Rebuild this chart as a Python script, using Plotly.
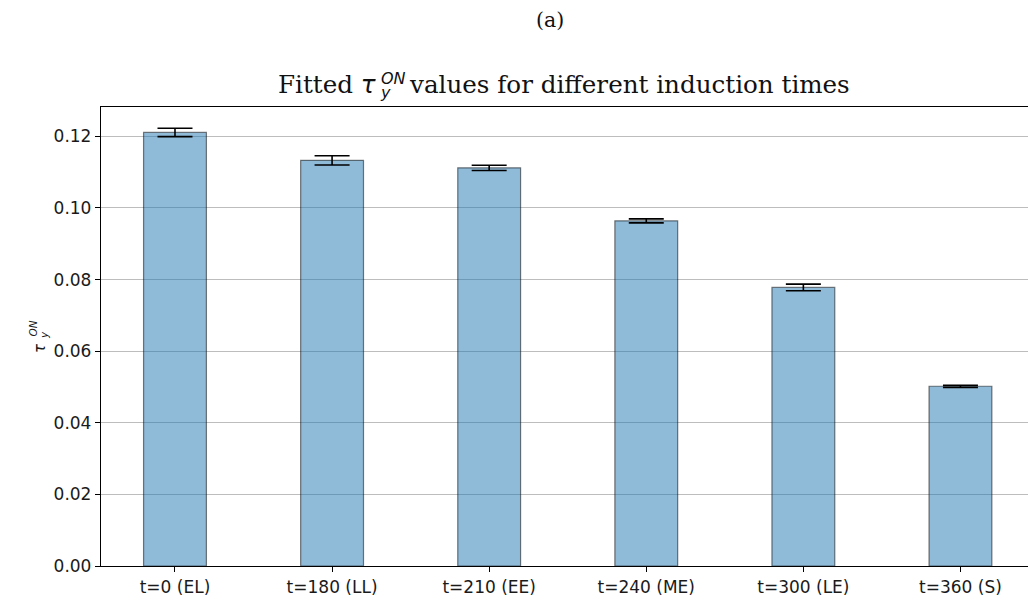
import plotly.graph_objects as go

# Induction-time groups and fitted tau_y^ON values with their uncertainties
categories = ["t=0 (EL)", "t=180 (LL)", "t=210 (EE)", "t=240 (ME)", "t=300 (LE)", "t=360 (S)"]
tau_on = [0.1211, 0.1133, 0.1112, 0.0964, 0.0778, 0.0502]
tau_err = [0.00117, 0.00128, 0.00075, 0.00056, 0.00093, 0.00030]
y_ticks = [0.00, 0.02, 0.04, 0.06, 0.08, 0.10, 0.12]

x_pos = list(range(len(categories)))

W, H = 1028, 601
L, R, T, B = 101, 0, 107, 35

fig = go.Figure()
fig.add_trace(go.Bar(
    x=x_pos,
    y=tau_on,
    width=0.4,
    marker=dict(color="rgba(31,119,180,0.5)",
                line=dict(color="rgba(0,0,0,0.5)", width=1.2)),
    error_y=dict(type="data", array=tau_err, visible=True,
                 color="black", thickness=1.6, width=17.5),
    showlegend=False,
))

tick_font = dict(family="DejaVu Sans", size=17, color="#1a1a1a")

fig.update_layout(
    width=W, height=H,
    margin=dict(l=L, r=R, t=T, b=B),
    paper_bgcolor="white", plot_bgcolor="white",
    xaxis=dict(
        range=[-0.471, 5.43],
        tickmode="array", tickvals=x_pos, ticktext=categories,
        showgrid=False, zeroline=False,
        showline=True, linecolor="black", linewidth=1.3, mirror=True,
        ticks="outside", ticklen=5, tickwidth=1.2, tickcolor="black",
        tickfont=tick_font,
    ),
    yaxis=dict(
        range=[0, 0.1282],
        tickmode="array", tickvals=y_ticks,
        ticktext=[f"{v:.2f}" for v in y_ticks],
        showgrid=True, gridcolor="#bdbdbd", gridwidth=1,
        zeroline=False,
        showline=True, linecolor="black", linewidth=1.3, mirror=False,
        ticks="outside", ticklen=5, tickwidth=1.2, tickcolor="black",
        tickfont=tick_font,
    ),
)


def px_text(text, x, y, size, family, xanchor="center", angle=0, color="#111111"):
    """Place a text item at pixel coordinates of the page."""
    fig.add_annotation(
        text=text, xref="paper", yref="paper",
        x=(x - L) / (W - L - R), y=(H - B - y) / (H - T - B),
        xanchor=xanchor, yanchor="middle", showarrow=False, textangle=angle,
        align="left" if xanchor == "left" else "center",
        borderpad=0,
        font=dict(family=family, size=size, color=color),
    )


# Panel label above the figure
px_text("(a)", 550, 20, 20.5, "DejaVu Serif")

# Title: serif words, math-style tau with stacked sub/superscript
px_text("Fitted <span style='font-family:DejaVu Sans'><i>τ</i></span>", 377, 84.5, 24.6,
        "DejaVu Serif", xanchor="right")
# superscript over subscript in one block; small base size keeps the lines tight
px_text("<span style='font-size:16px'><i>ON</i></span><br>"
        "<span style='font-size:16px'><i>y</i></span>",
        378.5, 86, 11, "DejaVu Sans", xanchor="left")
px_text("values for different induction times", 408, 84.5, 24.6,
        "DejaVu Serif", xanchor="left")

# Rotated y-axis label with stacked sub/superscript
px_text("<i>τ</i>", 40, 348, 15, "DejaVu Sans", angle=-90, color="#1a1a1a")
px_text("<i>ON</i>", 32.5, 329, 10.5, "DejaVu Sans", angle=-90, color="#1a1a1a")
px_text("<i>y</i>", 44, 335, 10.5, "DejaVu Sans", angle=-90, color="#1a1a1a")

fig.write_html("out.html")
